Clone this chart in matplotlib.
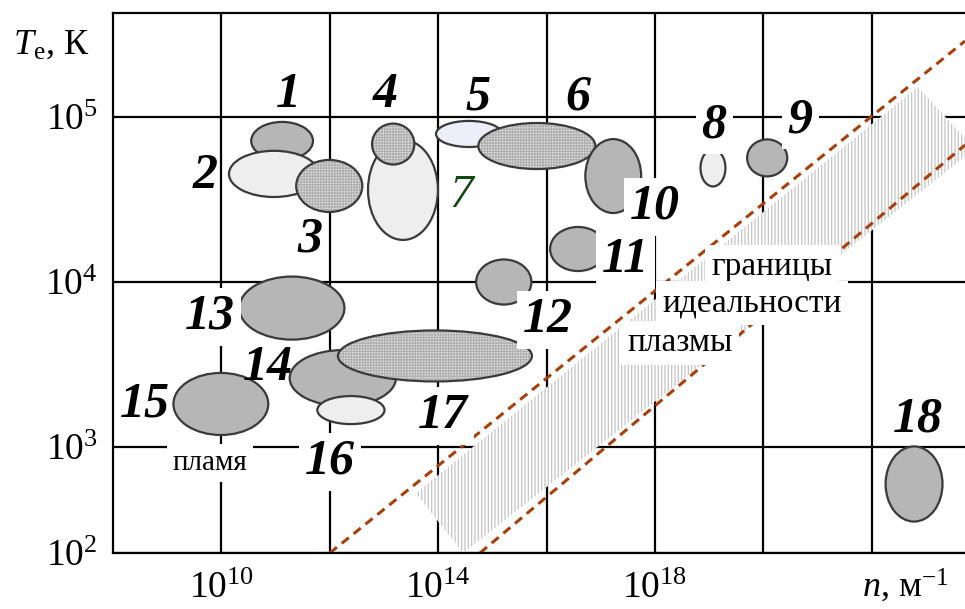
import matplotlib
matplotlib.use("Agg")
import matplotlib.pyplot as plt
from matplotlib.patches import Ellipse, Polygon

plt.rcParams['font.family'] = ['Liberation Serif', 'DejaVu Serif']
plt.rcParams['mathtext.fontset'] = 'custom'
plt.rcParams['mathtext.rm'] = 'Liberation Serif'
plt.rcParams['mathtext.it'] = 'Liberation Serif:italic'
plt.rcParams['hatch.linewidth'] = 0.9

# plasma regions: centre and size in decades (log10 n, log10 Te)
region_names = ['1', '2', '3', '4b', '4', '5', '6', '10', '11', '12', '8', '9',
                '13', '14', '16', '17', '15', '18']
region_n = [11.12, 10.97, 11.99, 13.35, 13.17, 14.57, 15.82, 17.23, 16.58, 15.21,
            19.07, 20.07, 11.30, 12.24, 12.39, 13.94, 9.99, 22.78]
region_T = [4.855, 4.655, 4.582, 4.558, 4.836, 4.897, 4.824, 4.642, 4.20, 4.00,
            4.691, 4.752, 3.842, 3.418, 3.224, 3.552, 3.261, 2.776]
region_dn = [1.14, 1.66, 1.22, 1.29, 0.78, 1.22, 2.16, 1.03, 1.03, 1.02,
             0.46, 0.74, 1.94, 1.96, 1.24, 3.58, 1.75, 1.05]
region_dT = [0.23, 0.28, 0.315, 0.606, 0.248, 0.158, 0.279, 0.448, 0.267, 0.273,
             0.224, 0.224, 0.382, 0.339, 0.17, 0.309, 0.376, 0.455]
region_fill = ['dark', 'dots', 'grid', 'dots', 'grid', 'blue', 'grid', 'dark', 'dark', 'dark',
               'dots', 'dark', 'dark', 'dark', 'dots', 'grid', 'dark', 'dark']

# number labels
label_text = ['1', '2', '3', '4', '5', '6', '8', '9', '10', '11', '12',
              '13', '14', '15', '16', '17', '18']
label_n = [11.23, 9.70, 11.63, 13.02, 14.73, 16.58, 19.09, 20.68, 18.0, 17.45, 16.03,
           9.79, 10.86, 8.59, 12.0, 14.09, 22.85]
label_T = [5.133, 4.642, 4.255, 5.133, 5.12, 5.12, 4.95, 4.98, 4.455, 4.133, 3.77,
           3.79, 3.48, 3.255, 2.91, 3.188, 3.164]
boxed = ['8', '9', '10', '11', '12', '13', '16', '17']

# ideal plasma boundaries
upper_n = [12.0, 23.72]
upper_T = [2.358, 5.46]
lower_n = [14.77, 23.72]
lower_T = [2.358, 4.83]
band_n = [13.59, 22.85, 23.9, 14.46]
band_T = [2.721, 5.182, 4.806, 2.358]

x_grid = [10, 12, 14, 16, 18, 20, 22]
x_labels = ['$10^{10}$', '', '$10^{14}$', '', '$10^{18}$', '', '']
y_grid = [2.358, 3, 4, 5]
y_labels = ['$10^{2}$', '$10^{3}$', '$10^{4}$', '$10^{5}$']

fills = {
    'dark': dict(face='#b6b6b6', hatch=None),
    'dots': dict(face='#eeeeee', hatch=None),
    'grid': dict(face='#e4e4e4', hatch='++++++'),
    'blue': dict(face='#eeeefb', hatch=None),
}

fig = plt.figure(figsize=(9.65, 6.09), dpi=100)
ax = fig.add_axes([113 / 965, 56 / 609, 1 - 113 / 965, 540 / 609])
ax.set_xlim(8, 23.72)
ax.set_ylim(2.358, 5.63)

ax.set_xticks(x_grid)
ax.set_xticklabels(x_labels, fontsize=27)
ax.set_yticks(y_grid)
ax.set_yticklabels(y_labels, fontsize=27)
ax.tick_params(length=0)
ax.tick_params(axis='x', pad=13)
ax.tick_params(axis='y', pad=11)
ax.grid(True, color='black', linewidth=1.6, zorder=1)
ax.set_axisbelow(True)
for side in ['left', 'bottom', 'top']:
    ax.spines[side].set_linewidth(1.6)
ax.spines['right'].set_visible(False)

# hatched band between the boundaries
ax.add_patch(Polygon(list(zip(band_n, band_T)), closed=True, facecolor='white',
                     edgecolor='#c4c4c4', hatch='|||||', linewidth=0, zorder=1.5))
ax.plot(upper_n, upper_T, color='#a8400c', linewidth=2.2, dashes=(3, 2), zorder=2.5)
ax.plot(lower_n, lower_T, color='#a8400c', linewidth=2.2, dashes=(3, 2), zorder=2.5)

for i in range(len(region_names)):
    st = fills[region_fill[i]]
    z = 3 + i * 0.01
    ax.add_patch(Ellipse((region_n[i], region_T[i]), region_dn[i], region_dT[i],
                         facecolor=st['face'], edgecolor='none', zorder=z))
    if st['hatch']:
        ax.add_patch(Ellipse((region_n[i], region_T[i]), region_dn[i], region_dT[i],
                             facecolor='none', edgecolor='#b0b0b0', hatch=st['hatch'],
                             linewidth=0, zorder=z + 0.001))
    ax.add_patch(Ellipse((region_n[i], region_T[i]), region_dn[i], region_dT[i],
                         facecolor='none', edgecolor='#3a3a3a', linewidth=1.6,
                         zorder=z + 0.002))

for t, x, y in zip(label_text, label_n, label_T):
    box = dict(facecolor='white', edgecolor='none', boxstyle='square,pad=0.12') if t in boxed else None
    ax.text(x, y, t, fontsize=36, fontweight='bold', fontstyle='italic',
            ha='center', va='center', bbox=box, zorder=6)

ax.text(14.42, 4.52, '7', fontsize=34, fontstyle='italic', color='#0f4a12',
        ha='center', va='center', zorder=6,
        bbox=dict(facecolor='white', edgecolor='none', boxstyle='square,pad=0.12'))

white = dict(facecolor='white', edgecolor='none', boxstyle='square,pad=0.2')
ax.text(9.79, 2.903, 'пламя', fontsize=21, ha='center', va='center', bbox=white, zorder=6)
ax.text(20.16, 4.09, 'границы', fontsize=24, ha='center', va='center', bbox=white, zorder=6)
ax.text(19.79, 3.873, 'идеальности', fontsize=24, ha='center', va='center', bbox=white, zorder=6)
ax.text(18.46, 3.63, 'плазмы', fontsize=24, ha='center', va='center', bbox=white, zorder=6)

fig.text(13 / 965, 1 - 45 / 609, '$T_\\mathrm{e}$, К', fontsize=26, ha='left', va='center')
fig.text(862 / 965, 12 / 609, '$n$, м$^{-1}$', fontsize=26, ha='left', va='baseline')

fig.savefig('out.png', dpi=100)
